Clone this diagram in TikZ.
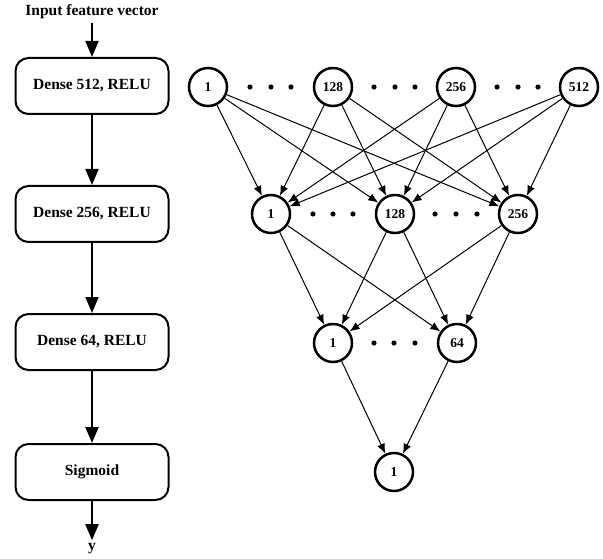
\documentclass[tikz,border=0pt]{standalone}
\usepackage{fontspec}
\setmainfont{Liberation Serif}
\usetikzlibrary{arrows.meta}

\tikzset{
	capa/.style={draw, line width=2pt, rounded corners=13pt, minimum width=153pt, minimum height=56pt, font=\fontsize{15.5}{18}\selectfont\bfseries},
	neurona/.style={draw, circle, line width=2.5pt, minimum size=38pt, inner sep=0pt, font=\fontsize{13.5}{15}\selectfont\bfseries},
	etiqueta/.style={font=\fontsize{15.5}{18}\selectfont\bfseries},
	flujo/.style={line width=2.2pt, -{Triangle[length=16pt,width=13pt]}},
	conexion/.style={line width=1pt, -{Latex[length=10pt,width=8pt]}},
	punto/.style={fill=black},
}

\begin{document}
\begin{tikzpicture}[x=1pt, y=-1pt]
		\useasboundingbox (0,0) rectangle (603,559);
		% Bloques
			\node[etiqueta] (entrada) at (92,12) {Input feature vector};
			\node[capa] (d512) at (92,86) {Dense 512, RELU};
			\node[capa] (d256) at (92,214) {Dense 256, RELU};
			\node[capa] (d64) at (92,342) {Dense 64, RELU};
			\node[capa] (sig) at (92,472) {Sigmoid};
			\node[etiqueta] (salida) at (92,549) {y};
		% Flechas de bloques
			\draw[flujo] (entrada) -- (d512);
			\draw[flujo] (d512) -- (d256);
			\draw[flujo] (d256) -- (d64);
			\draw[flujo] (d64) -- (sig);
			\draw[flujo] (sig) -- (salida);
		% Neuronas
			% Capa 1
				\node[neurona] (a1) at (208,87) {1};
				\node[neurona] (a128) at (333,87) {128};
				\node[neurona] (a256) at (456,87) {256};
				\node[neurona] (a512) at (579,87) {512};
			% Capa 2
				\node[neurona] (b1) at (271,214) {1};
				\node[neurona] (b128) at (395,214) {128};
				\node[neurona] (b256) at (518,214) {256};
			% Capa 3
				\node[neurona] (c1) at (333,343) {1};
				\node[neurona] (c64) at (457,343) {64};
			% Capa 4
				\node[neurona] (e1) at (394,472) {1};
		% Puntos suspensivos
			\fill[punto] (250,87) circle[radius=2.6] (271,87) circle[radius=2.6] (291,87) circle[radius=2.6];
			\fill[punto] (374,87) circle[radius=2.6] (395,87) circle[radius=2.6] (415,87) circle[radius=2.6];
			\fill[punto] (497,87) circle[radius=2.6] (518,87) circle[radius=2.6] (538,87) circle[radius=2.6];
			\fill[punto] (313,214) circle[radius=2.6] (333,214) circle[radius=2.6] (353,214) circle[radius=2.6];
			\fill[punto] (435,214) circle[radius=2.6] (456,214) circle[radius=2.6] (477,214) circle[radius=2.6];
			\fill[punto] (374,343) circle[radius=2.6] (394,343) circle[radius=2.6] (415,343) circle[radius=2.6];
		% Conexiones
			% Capa 1 a capa 2
				\draw[conexion] (a1) -- (b1); \draw[conexion] (a1) -- (b128); \draw[conexion] (a1) -- (b256);
				\draw[conexion] (a128) -- (b1); \draw[conexion] (a128) -- (b128); \draw[conexion] (a128) -- (b256);
				\draw[conexion] (a256) -- (b1); \draw[conexion] (a256) -- (b128); \draw[conexion] (a256) -- (b256);
				\draw[conexion] (a512) -- (b1); \draw[conexion] (a512) -- (b128); \draw[conexion] (a512) -- (b256);
			% Capa 2 a capa 3
				\draw[conexion] (b1) -- (c1); \draw[conexion] (b1) -- (c64);
				\draw[conexion] (b128) -- (c1); \draw[conexion] (b128) -- (c64);
				\draw[conexion] (b256) -- (c1); \draw[conexion] (b256) -- (c64);
			% Capa 3 a capa 4
				\draw[conexion] (c1) -- (e1); \draw[conexion] (c64) -- (e1);
	\end{tikzpicture}
\end{document}
